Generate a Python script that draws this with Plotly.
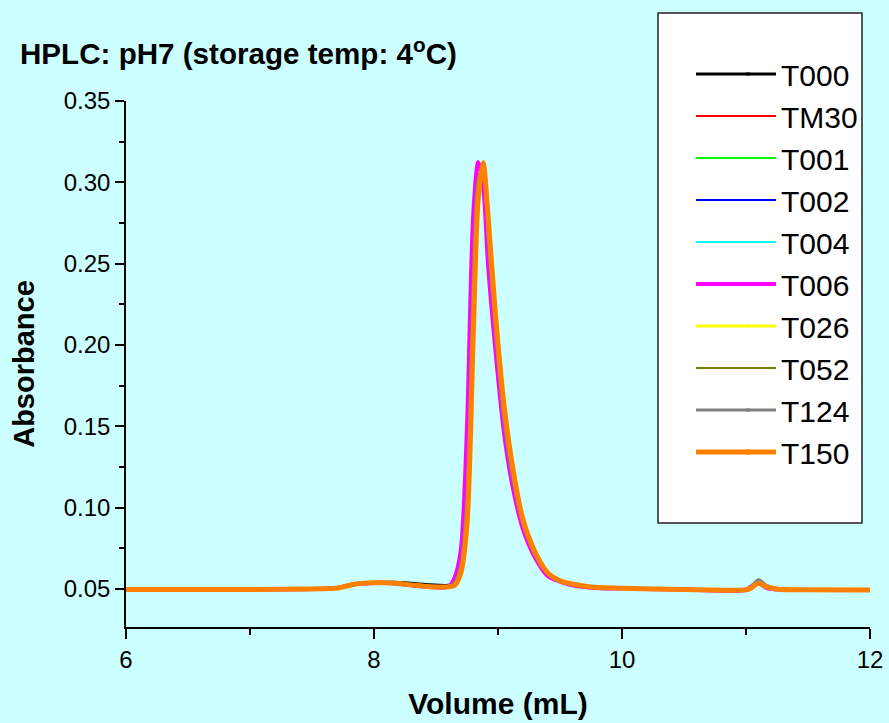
import plotly.graph_objects as go

# ---------------- data ----------------
volume = [6.0, 6.5, 7.0, 7.5, 7.7, 7.85, 8.0, 8.15, 8.3, 8.45, 8.6, 8.65, 8.7, 8.75, 8.8, 8.84,
          8.88, 8.92, 8.98, 9.05, 9.12, 9.2, 9.3, 9.4, 9.5, 9.6, 9.75, 10.0, 10.5, 11.0, 11.04,
          11.10, 11.17, 11.26, 11.4, 12.0]

series_names = ["T000", "TM30", "T001", "T002", "T004", "T006", "T026", "T052", "T124", "T150"]
series_colors = ["#000000", "#FF0000", "#00FF00", "#0000FF", "#00FFFF", "#FF00FF", "#FFFF00",
                 "#808000", "#808080", "#FF8000"]
series_widths = [3, 2, 2, 2, 2, 4, 3, 2, 3, 5]

T000 = [0.0498, 0.0498, 0.0498, 0.0501, 0.0507, 0.0532, 0.0540, 0.0541, 0.0535, 0.0525, 0.0522,
        0.0530, 0.0620, 0.0980, 0.2220, 0.2970, 0.3110, 0.2720, 0.2120, 0.1570, 0.1200, 0.0915,
        0.0715, 0.0597, 0.0549, 0.0528, 0.0511, 0.0505, 0.0498, 0.0496, 0.0508, 0.0542, 0.0514,
        0.0499, 0.0496, 0.0495]
TM30 = [0.0497, 0.0497, 0.0497, 0.0500, 0.0506, 0.0531, 0.0539, 0.0538, 0.0527, 0.0516, 0.0515,
        0.0540, 0.0650, 0.1080, 0.2410, 0.3020, 0.3090, 0.2650, 0.2070, 0.1520, 0.1170, 0.0900,
        0.0705, 0.0593, 0.0547, 0.0526, 0.0510, 0.0504, 0.0497, 0.0495, 0.0508, 0.0540, 0.0512,
        0.0497, 0.0495, 0.0494]
T001 = [0.0497, 0.0497, 0.0497, 0.0500, 0.0506, 0.0531, 0.0538, 0.0538, 0.0527, 0.0516, 0.0515,
        0.0538, 0.0645, 0.1060, 0.2380, 0.3010, 0.3095, 0.2660, 0.2080, 0.1525, 0.1172, 0.0902,
        0.0706, 0.0594, 0.0548, 0.0527, 0.0510, 0.0504, 0.0497, 0.0495, 0.0507, 0.0539, 0.0512,
        0.0497, 0.0495, 0.0494]
T002 = [0.0497, 0.0497, 0.0497, 0.0500, 0.0506, 0.0530, 0.0538, 0.0538, 0.0526, 0.0515, 0.0515,
        0.0535, 0.0635, 0.1030, 0.2330, 0.3000, 0.3100, 0.2680, 0.2095, 0.1540, 0.1180, 0.0906,
        0.0709, 0.0595, 0.0548, 0.0527, 0.0510, 0.0504, 0.0497, 0.0495, 0.0507, 0.0538, 0.0511,
        0.0497, 0.0495, 0.0494]
T004 = [0.0497, 0.0497, 0.0497, 0.0500, 0.0506, 0.0530, 0.0538, 0.0537, 0.0526, 0.0515, 0.0514,
        0.0532, 0.0625, 0.1000, 0.2260, 0.2980, 0.3105, 0.2700, 0.2110, 0.1555, 0.1190, 0.0910,
        0.0712, 0.0596, 0.0549, 0.0528, 0.0511, 0.0504, 0.0497, 0.0495, 0.0507, 0.0537, 0.0511,
        0.0497, 0.0495, 0.0494]
T006 = [0.0496, 0.0496, 0.0496, 0.0499, 0.0506, 0.0531, 0.0537, 0.0535, 0.0523, 0.0512, 0.0513,
        0.0570, 0.0740, 0.1500, 0.2800, 0.3125, 0.2980, 0.2490, 0.1960, 0.1450, 0.1120, 0.0870,
        0.0690, 0.0580, 0.0545, 0.0522, 0.0508, 0.0502, 0.0496, 0.0494, 0.0515, 0.0535, 0.0505,
        0.0496, 0.0494, 0.0493]
T026 = [0.0497, 0.0497, 0.0497, 0.0500, 0.0505, 0.0529, 0.0537, 0.0537, 0.0526, 0.0515, 0.0514,
        0.0518, 0.0580, 0.0830, 0.1900, 0.2830, 0.3110, 0.2850, 0.2250, 0.1670, 0.1270, 0.0950,
        0.0735, 0.0605, 0.0555, 0.0533, 0.0514, 0.0506, 0.0498, 0.0496, 0.0505, 0.0534, 0.0514,
        0.0499, 0.0496, 0.0495]
T052 = [0.0498, 0.0498, 0.0498, 0.0501, 0.0509, 0.0536, 0.0541, 0.0539, 0.0528, 0.0516, 0.0515,
        0.0524, 0.0600, 0.0900, 0.2050, 0.2900, 0.3115, 0.2800, 0.2190, 0.1620, 0.1240, 0.0930,
        0.0725, 0.0600, 0.0551, 0.0530, 0.0512, 0.0505, 0.0498, 0.0496, 0.0507, 0.0539, 0.0513,
        0.0498, 0.0496, 0.0495]
T124 = [0.0498, 0.0498, 0.0498, 0.0501, 0.0507, 0.0532, 0.0539, 0.0539, 0.0529, 0.0517, 0.0516,
        0.0540, 0.0650, 0.1080, 0.2410, 0.3020, 0.3090, 0.2650, 0.2070, 0.1520, 0.1170, 0.0900,
        0.0705, 0.0593, 0.0547, 0.0526, 0.0510, 0.0504, 0.0498, 0.0497, 0.0515, 0.0556, 0.0520,
        0.0500, 0.0497, 0.0496]
T150 = [0.0497, 0.0497, 0.0497, 0.0500, 0.0505, 0.0530, 0.0538, 0.0537, 0.0525, 0.0514, 0.0513,
        0.0522, 0.0600, 0.0900, 0.2050, 0.2900, 0.3120, 0.2790, 0.2180, 0.1620, 0.1240, 0.0930,
        0.0725, 0.0600, 0.0550, 0.0530, 0.0512, 0.0505, 0.0497, 0.0495, 0.0505, 0.0535, 0.0512,
        0.0498, 0.0495, 0.0494]

series_values = [T000, TM30, T001, T002, T004, T006, T026, T052, T124, T150]

x_ticks = [6, 8, 10, 12]
y_ticks = [0.05, 0.10, 0.15, 0.20, 0.25, 0.30, 0.35]

# ---------------- figure ----------------
FONT = "Liberation Sans, Arial, Helvetica, sans-serif"
BG = "#CCFFFF"
W, H = 889, 723
ML, MR, MT, MB = 126, 19, 101, 96
PW, PH = W - ML - MR, H - MT - MB
LEG_TOP = 48          # px from top of the figure
LEG_ROW = 42          # legend row height (px) for a 30px font
LEG_FIRST = LEG_TOP + 26


def px_x(px):
    return (px - ML) / PW


def px_y(py):
    return (H - MB - py) / PH


fig = go.Figure()
for name, color, width, vals in zip(series_names, series_colors, series_widths, series_values):
    fig.add_trace(go.Scatter(
        x=volume, y=vals, name=name, mode="lines",
        line=dict(color=color, width=width, shape="spline", smoothing=0.8),
        legendgroup=name,
    ))

# legend frame and longer legend key lines (decoration)
shapes = [dict(
    type="rect", xref="paper", yref="paper",
    x0=px_x(658), x1=px_x(862), y0=px_y(523), y1=px_y(13),
    line=dict(color="#222222", width=1.5), fillcolor="white", layer="below",
)]
for i, (color, width) in enumerate(zip(series_colors, series_widths)):
    yy = px_y(LEG_FIRST + LEG_ROW * i)
    shapes.append(dict(
        type="line", xref="paper", yref="paper",
        x0=px_x(696), x1=px_x(750), y0=yy, y1=yy,
        line=dict(color=color, width=width),
    ))

fig.update_layout(
    width=W, height=H,
    paper_bgcolor=BG, plot_bgcolor=BG,
    margin=dict(l=ML, r=MR, t=MT, b=MB, autoexpand=False),
    font=dict(family=FONT, color="black", size=24),
    title=dict(
        text="<b>HPLC: pH7 (storage temp: 4<sup>o</sup>C)</b>",
        x=20 / W, xanchor="left", xref="container",
        y=1 - 54 / H, yanchor="middle", yref="container",
        font=dict(family=FONT, size=29.6, color="black"),
    ),
    showlegend=True,
    legend=dict(
        xref="container", yref="container",
        x=741 / W, xanchor="left", y=1 - LEG_TOP / H, yanchor="top",
        bgcolor="rgba(0,0,0,0)", borderwidth=0,
        font=dict(family=FONT, size=30, color="black"),
        traceorder="grouped", tracegroupgap=0,
    ),
    shapes=shapes,
)
try:
    fig.update_layout(legend_maxheight=700)
except Exception:
    pass

fig.update_xaxes(
    range=[6, 12], tickvals=x_ticks, ticktext=[str(v) for v in x_ticks],
    ticks="outside", ticklen=10, tickwidth=1.5, tickcolor="black",
    minor=dict(dtick=1, tick0=6, ticks="outside", ticklen=6, tickwidth=1.5, tickcolor="black"),
    showline=True, linecolor="black", linewidth=1.5, mirror=False,
    showgrid=False, zeroline=False,
    tickfont=dict(family=FONT, size=24, color="black"),
    title=dict(text="<b>Volume (mL)</b>", font=dict(family=FONT, size=30, color="black"), standoff=21),
)
fig.update_yaxes(
    range=[0.0266, 0.35], tickvals=y_ticks, ticktext=[f"{v:.2f}" for v in y_ticks],
    ticks="outside", ticklen=9, tickwidth=1.5, tickcolor="black",
    minor=dict(dtick=0.025, tick0=0, ticks="outside", ticklen=5, tickwidth=1.5, tickcolor="black"),
    showline=True, linecolor="black", linewidth=1.5, mirror=False,
    showgrid=False, zeroline=False,
    tickfont=dict(family=FONT, size=24, color="black"),
    title=dict(text="<b>Absorbance</b>", font=dict(family=FONT, size=29, color="black"), standoff=21),
)

fig.write_html(
    "out.html",
    config={"displayModeBar": False},
    post_script="document.body.style.margin='0';document.documentElement.style.overflow='hidden';",
)
